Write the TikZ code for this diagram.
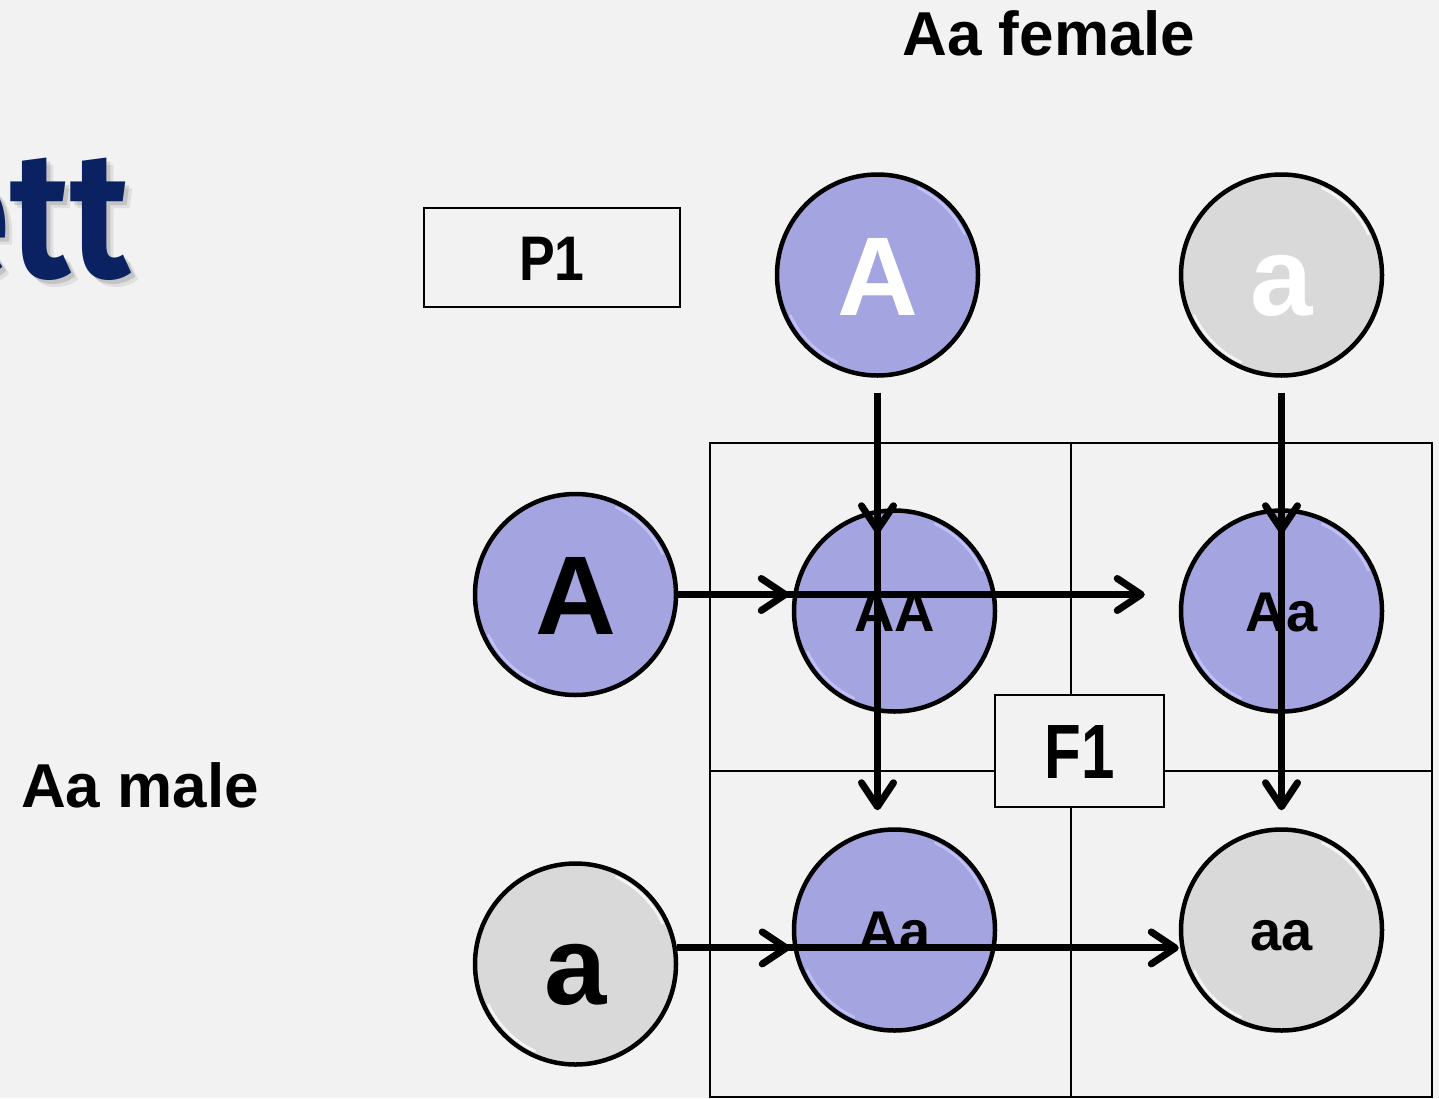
\documentclass[tikz,border=0pt]{standalone}
\usepackage{fontspec}
\setmainfont{Liberation Sans}
\newfontfamily\titlefont{Fira Sans}
\usetikzlibrary{arrows.meta,calc}
\definecolor{paper}{HTML}{F2F2F2}
\definecolor{allelblue}{HTML}{A4A4E0}
\definecolor{allelgrey}{HTML}{D9D9D9}
\definecolor{rimblue}{HTML}{CACAFF}
\definecolor{navy}{HTML}{0B2262}

% light bevel on the upper right and lower left of a circle
\newcommand\rimlight[2]{%
  \draw[#2, line width=2.5pt, opacity=0.75, line cap=round]
    ($(#1.center)+(25:96pt)$) arc[start angle=25, end angle=65, radius=96pt];
  \draw[#2, line width=2.5pt, opacity=0.75, line cap=round]
    ($(#1.center)+(205:96pt)$) arc[start angle=205, end angle=245, radius=96pt];
}

\begin{document}
\begin{tikzpicture}[x=1pt, y=-1pt,
  allele/.style={circle, draw=black, line width=4.5pt, minimum size=201pt,
    inner sep=0pt, font=\bfseries\fontsize{112}{112}\selectfont,
    text height=80pt, text depth=0pt},
  dom/.style={allele, fill=allelblue},
  rec/.style={allele, fill=allelgrey},
  cross/.style={font=\bfseries\fontsize{56}{56}\selectfont, text height=40pt},
  heading/.style={font=\bfseries\fontsize{62}{62}\selectfont, anchor=base},
  genbox/.style={draw=black, line width=2pt, fill=paper, inner sep=0pt},
  cell/.style={draw=black, line width=2.5pt},
  titletext/.style={anchor=base east, inner sep=0pt,
    font=\titlefont\bfseries\fontsize{180}{180}\selectfont},
  arr/.style={line width=7pt, -{Straight Barb[length=24pt, width=32pt, round]}}
]
\useasboundingbox (0,0) rectangle (1439,1098);
\fill[paper] (0,0) rectangle (1439,1098);
\clip (0,0) rectangle (1439,1098);

% title fragment with its soft drop shadow
\node[titletext, text=black, opacity=0.08] (titleshadowb) at (137,284) {\scalebox{0.86}[1]{ett}};
\node[titletext, text=black, opacity=0.12] (titleshadow) at (134,281) {\scalebox{0.86}[1]{ett}};
\node[titletext, text=navy] (title) at (130,277) {\scalebox{0.86}[1]{ett}};

% parent labels
\node[heading] (female) at (1049,55) {Aa female};
\node[heading] (male) at (140,807) {Aa male};

% Punnett square grid
\draw[cell] (710,443) rectangle (1432,1097);
\draw[cell] (1071,443) -- (1071,1097);
\draw[cell] (710,771) -- (1432,771);

% generation boxes
\node[genbox, minimum width=256pt, minimum height=99pt, text height=45pt, text depth=0pt,
      font=\bfseries\fontsize{63}{63}\selectfont] (P1) at (552,257.5) {\scalebox{0.85}[1]{P1}};

% gametes
\node[dom, text=white] (fA) at (877.5,275) {A};
\node[rec, text=white] (fa) at (1281.5,275) {a};
\node[dom] (mA) at (575.5,594.5) {A};
\node[rec] (ma) at (575.5,964) {a};

% offspring
\node[dom, cross] (AA) at (894.5,611) {AA};
\node[dom, cross] (Aa1) at (1281.5,611) {Aa};
\node[dom, cross] (Aa2) at (894.5,930) {Aa};
\node[rec, cross] (aa) at (1281.5,930) {aa};

\rimlight{fA}{rimblue}
\rimlight{fa}{white}
\rimlight{mA}{rimblue}
\rimlight{ma}{white}
\rimlight{AA}{rimblue}
\rimlight{Aa1}{rimblue}
\rimlight{Aa2}{rimblue}
\rimlight{aa}{white}

\node[genbox, minimum width=169pt, minimum height=112pt, text height=55pt, text depth=0pt,
      font=\bfseries\fontsize{77}{77}\selectfont] (F1) at (1079.5,751) {\scalebox{0.78}[1]{F1}};

% female gametes into the columns
\draw[arr, shorten <=15pt] (fA.south) -- ($(fA.south |- AA.north)+(0,25)$);
\draw[arr, shorten <=15pt, shorten >=17pt] (fA.south) -- (fA.south |- Aa2.north);
\draw[arr, shorten <=15pt] (fa.south) -- ($(fa.south |- Aa1.north)+(0,25)$);
\draw[arr, shorten <=15pt, shorten >=17pt] (fa.south) -- (fa.south |- aa.north);

% male gametes into the rows
\draw[arr, shorten >=3pt] (mA.east) -- (mA.east -| AA.west);
\draw[arr, shorten >=34pt] (mA.east) -- (mA.east -| Aa1.west);
\coordinate (mrow) at (ma.9.5);
\draw[arr, shorten >=2pt] (mrow) -- (mrow -| Aa2.west);
\draw[arr] (mrow) -- (mrow -| aa.west);
\end{tikzpicture}
\end{document}
